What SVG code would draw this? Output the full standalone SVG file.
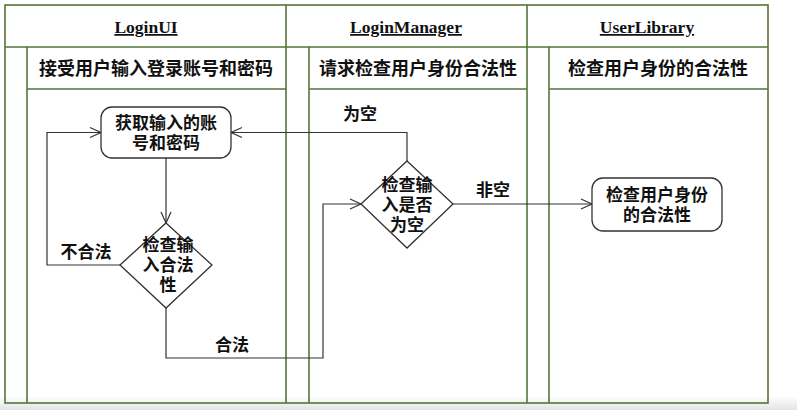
<svg xmlns="http://www.w3.org/2000/svg" width="797" height="410" viewBox="0 0 797 410">
<defs>
<linearGradient id="bot" x1="0" y1="0" x2="0" y2="1">
<stop offset="0" stop-color="#ffffff"/>
<stop offset="1" stop-color="#e4e4e4"/>
</linearGradient>
<marker id="arr" markerUnits="userSpaceOnUse" markerWidth="14" markerHeight="14" viewBox="0 0 14 14" refX="12" refY="7" orient="auto">
<path d="M1,2 L12,7 L1,12" fill="none" stroke="#333" stroke-width="1.2"/>
</marker>
</defs>
<style>
.frame{fill:none;stroke:#55733a;stroke-width:1.6}
.hdr{font-family:"Liberation Serif",serif;font-weight:bold;font-size:17.5px;text-decoration:underline;fill:#111}
.sub{font-family:"Liberation Sans","Noto Sans CJK SC",sans-serif;font-weight:bold;font-size:18px;fill:#111}
.lbl{font-family:"Liberation Sans","Noto Sans CJK SC",sans-serif;font-weight:bold;font-size:17px;fill:#111}
.shape{fill:#fff;stroke:#333;stroke-width:1.3}
.conn{fill:none;stroke:#333;stroke-width:1.2}
</style>
<rect x="0" y="0" width="797" height="410" fill="#fff"/>
<rect x="0" y="396" width="797" height="14" fill="url(#bot)"/>
<g id="swimlanes">
<rect class="frame" x="5" y="5" width="763" height="398"/>
<line class="frame" x1="5" y1="47" x2="768" y2="47"/>
<line class="frame" x1="286" y1="5" x2="286" y2="403"/>
<line class="frame" x1="527" y1="5" x2="527" y2="403"/>
<line class="frame" x1="27" y1="47" x2="27" y2="403"/>
<line class="frame" x1="309" y1="47" x2="309" y2="403"/>
<line class="frame" x1="549" y1="47" x2="549" y2="403"/>
<line class="frame" x1="27" y1="89" x2="286" y2="89"/>
<line class="frame" x1="309" y1="89" x2="527" y2="89"/>
<line class="frame" x1="549" y1="89" x2="768" y2="89"/>
<text class="hdr" x="146" y="33" text-anchor="middle">LoginUI</text>
<text class="hdr" x="406" y="33" text-anchor="middle">LoginManager</text>
<text class="hdr" x="647" y="33" text-anchor="middle">UserLibrary</text>
<text class="sub" x="156" y="75" text-anchor="middle">接受用户输入登录账号和密码</text>
<text class="sub" x="418" y="75" text-anchor="middle">请求检查用户身份合法性</text>
<text class="sub" x="658" y="75" text-anchor="middle">检查用户身份的合法性</text>
</g>
<g id="connectors">
<line class="conn" x1="166" y1="158" x2="166" y2="223" marker-end="url(#arr)"/>
<polyline class="conn" points="120,265 47,265 47,132.5 101,132.5" marker-end="url(#arr)"/>
<polyline class="conn" points="166,308 166,358 323,358 323,204 361,204" marker-end="url(#arr)"/>
<polyline class="conn" points="407,161 407,132.5 231,132.5" marker-end="url(#arr)"/>
<line class="conn" x1="453" y1="204" x2="592" y2="204" marker-end="url(#arr)"/>
<text class="lbl" x="86" y="258" text-anchor="middle">不合法</text>
<text class="lbl" x="232" y="351" text-anchor="middle">合法</text>
<text class="lbl" x="360" y="120" text-anchor="middle">为空</text>
<text class="lbl" x="493" y="196" text-anchor="middle">非空</text>
</g>
<g id="node-get-input">
<rect class="shape" x="101" y="107" width="130" height="51" rx="11"/>
<text class="lbl" text-anchor="middle"><tspan x="166" y="129">获取输入的账</tspan><tspan x="166" y="149">号和密码</tspan></text>
</g>
<g id="node-check-valid">
<polygon class="shape" points="166,223 212,265 166,308 120,265"/>
<text class="lbl" text-anchor="middle"><tspan x="168" y="251">检查输</tspan><tspan x="168" y="271">入合法</tspan><tspan x="168" y="291">性</tspan></text>
</g>
<g id="node-check-empty">
<polygon class="shape" points="407,161 453,204 407,248 361,204"/>
<text class="lbl" text-anchor="middle"><tspan x="407" y="191">检查输</tspan><tspan x="407" y="211">入是否</tspan><tspan x="407" y="231">为空</tspan></text>
</g>
<g id="node-check-user">
<rect class="shape" x="592" y="178" width="130" height="53" rx="11"/>
<text class="lbl" text-anchor="middle"><tspan x="657" y="201">检查用户身份</tspan><tspan x="657" y="221">的合法性</tspan></text>
</g>
</svg>
